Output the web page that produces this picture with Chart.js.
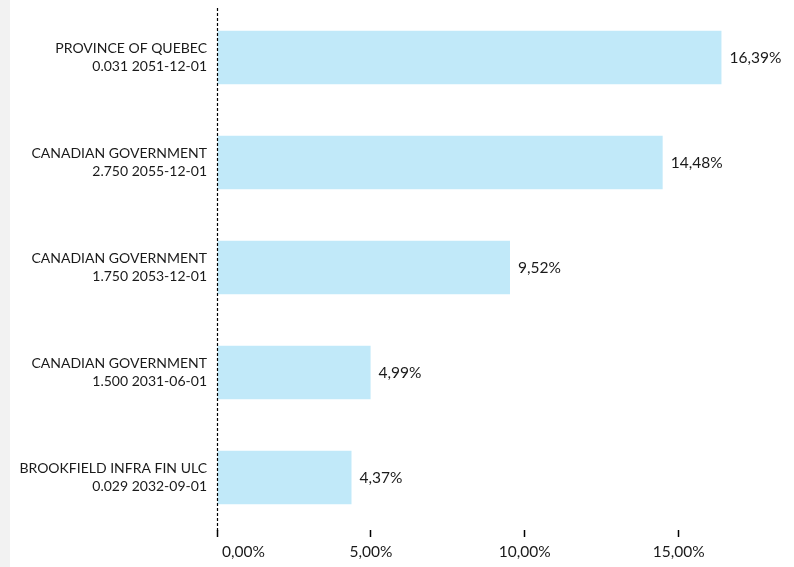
<!DOCTYPE html>
<html>
<head>
<meta charset="utf-8">
<script src="https://cdn.jsdelivr.net/npm/chart.js@4/dist/chart.umd.min.js"></script>
<style>
  html, body { margin: 0; padding: 0; background: #fff; }
  #strip { position: absolute; left: 0; top: 0; width: 10px; height: 567px; background: #f2f2f2; }
  #wrap { position: absolute; left: 10px; top: 0; width: 784px; height: 567px; }
</style>
</head>
<body>
<div id="strip"></div>
<div id="wrap"><canvas id="holdings-chart"></canvas></div>
<script>
// Holdings (top to bottom)
const names = [
    ['PROVINCE OF QUEBEC', '0.031 2051-12-01'],
    ['CANADIAN GOVERNMENT', '2.750 2055-12-01'],
    ['CANADIAN GOVERNMENT', '1.750 2053-12-01'],
    ['CANADIAN GOVERNMENT', '1.500 2031-06-01'],
    ['BROOKFIELD INFRA FIN ULC', '0.029 2032-09-01']
];
const weights = [16.39, 14.48, 9.52, 4.99, 4.37]; // % of portfolio
const xTicks = [0, 5, 10, 15];

const fontFamily = 'Lato, "Open Sans", sans-serif';
const textColor = '#1a1a1a';
const numFont = '15.5px ' + fontFamily;

const pct = v => v.toFixed(2).replace('.', ',') + '%';

// value labels, dashed baseline and x tick labels
const extras = {
    id: 'extras',
    afterDatasetsDraw(chart) {
        const ctx = chart.ctx;
        const area = chart.chartArea;
        const xs = chart.scales.x;
        const meta = chart.getDatasetMeta(0);
        ctx.save();

        // dashed zero line
        ctx.strokeStyle = '#000';
        ctx.lineWidth = 1.2;
        ctx.setLineDash([3, 2]);
        ctx.beginPath();
        ctx.moveTo(Math.round(area.left) + 0.5, area.top + 3);
        ctx.lineTo(Math.round(area.left) + 0.5, area.bottom + 1);
        ctx.stroke();
        ctx.setLineDash([]);

        ctx.font = numFont;
        ctx.fillStyle = textColor;
        ctx.textBaseline = 'middle';
        ctx.textAlign = 'left';
        meta.data.forEach((bar, i) => {
            ctx.fillText(pct(weights[i]), bar.x + 8, bar.y);
        });

        // x tick labels (first one sits right of its tick)
        xTicks.forEach((v, i) => {
            const px = xs.getPixelForValue(v);
            if (i === 0) {
                ctx.textAlign = 'left';
                ctx.fillText(pct(v), px + 5, area.bottom + 22);
            } else {
                ctx.textAlign = 'center';
                ctx.fillText(pct(v), px, area.bottom + 22);
            }
        });
        ctx.restore();
    }
};

Chart.defaults.font.family = fontFamily;
Chart.defaults.color = textColor;

const ctx = document.getElementById('holdings-chart').getContext('2d');
new Chart(ctx, {
    type: 'bar',
    data: {
        labels: names,
        datasets: [{
            data: weights,
            backgroundColor: '#c1e9f9',
            borderWidth: 0,
            categoryPercentage: 1,
            barPercentage: 0.51
        }]
    },
    options: {
        indexAxis: 'y',
        responsive: true,
        maintainAspectRatio: false,
        animation: false,
        layout: { padding: { top: 5, right: 23, left: 0, bottom: 0 } },
        plugins: {
            legend: { display: false },
            tooltip: { enabled: false }
        },
        scales: {
            x: {
                min: 0,
                max: 18,
                afterBuildTicks: scale => {
                    scale.ticks = xTicks.map(v => ({ value: v }));
                },
                afterFit: scale => { scale.height = 37; },
                border: { display: false },
                grid: {
                    drawOnChartArea: false,
                    drawTicks: true,
                    tickLength: 7,
                    tickWidth: 1.5,
                    tickColor: '#000',
                    offset: false
                },
                ticks: { display: false }
            },
            y: {
                afterFit: scale => {
                    scale.width = 207;
                    scale.paddingTop = 0;
                    scale.paddingBottom = 0;
                },
                border: { display: false },
                grid: { display: false, drawTicks: false },
                ticks: {
                    padding: 10,
                    crossAlign: 'near',
                    font: { size: 14, lineHeight: 1.35 }
                }
            }
        }
    },
    plugins: [extras]
});
</script>
</body>
</html>
